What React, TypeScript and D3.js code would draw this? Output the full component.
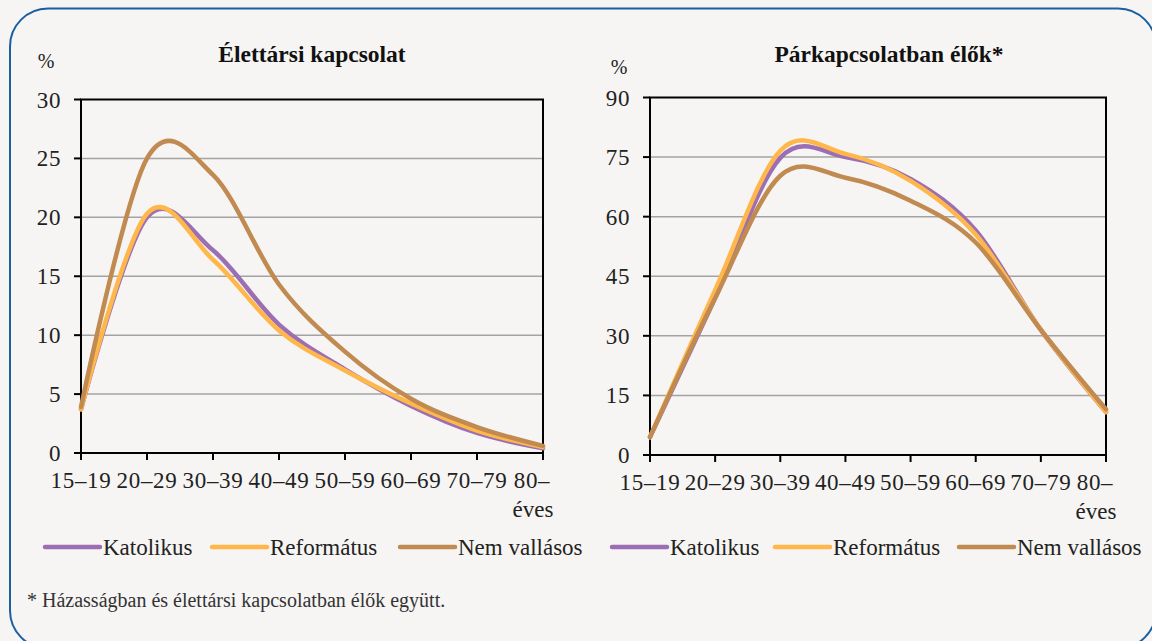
import React from "react";
import * as d3 from "d3";

const categories = ["15–19", "20–29", "30–39", "40–49", "50–59", "60–69", "70–79", "80–"];
const seriesNames = ["Katolikus", "Református", "Nem vallásos"];
const seriesColors = ["#9c6fb4", "#ffb74a", "#c08a50"];

const leftKatolikus = [3.7, 20.0, 17.2, 10.9, 7.1, 4.0, 1.7, 0.4];
const leftReformatus = [3.7, 20.3, 16.4, 10.4, 7.0, 4.2, 1.9, 0.5];
const leftNemVallasos = [3.9, 25.0, 23.6, 14.3, 8.6, 4.6, 2.2, 0.6];
const leftTicks = [0, 5, 10, 15, 20, 25, 30];

const rightKatolikus = [4.5, 39.5, 74.8, 75.0, 69.5, 56.5, 31.5, 10.8];
const rightReformatus = [4.5, 41.5, 76.6, 75.8, 69.0, 55.5, 31.5, 10.8];
const rightNemVallasos = [4.5, 39.5, 70.3, 69.8, 64.0, 53.5, 31.5, 11.5];
const rightTicks = [0, 15, 30, 45, 60, 75, 90];

const FONT = "Liberation Serif, DejaVu Serif, serif";

type PanelProps = {
  title: string;
  titleX: number;
  pctX: number;
  pctY: number;
  x0: number;
  x1: number;
  y0: number;
  y1: number;
  max: number;
  ticks: number[];
  series: number[][];
  legendX: number[];
};

function Panel(p: PanelProps) {
  const x = d3.scalePoint<string>().domain(categories).range([p.x0, p.x1]);
  const y = d3.scaleLinear().domain([0, p.max]).range([p.y1, p.y0]);
  const line = d3
    .line<number>()
    .x((_, i) => x(categories[i]) as number)
    .y((d) => y(d))
    .curve(d3.curveCardinal.tension(0));
  const lastX = x(categories[categories.length - 1]) as number;
  return (
    <g>
      <text x={p.titleX} y={62} textAnchor="middle" style={{ fontFamily: FONT }} fontWeight="bold" fontSize={23.5} fill="#111">
        {p.title}
      </text>
      <text x={p.pctX} y={p.pctY} textAnchor="middle" style={{ fontFamily: FONT }} fontSize={20} fill="#222">
        %
      </text>
      {p.ticks.slice(1, -1).map((t) => (
        <line key={"g" + t} x1={p.x0} x2={p.x1} y1={y(t)} y2={y(t)} stroke="#a3a3a3" strokeWidth={1.5} />
      ))}
      {p.ticks.map((t) => (
        <g key={"t" + t}>
          <line x1={p.x0 - 7} x2={p.x0} y1={y(t)} y2={y(t)} stroke="#000" strokeWidth={2} />
          <text x={p.x0 - 20} y={y(t)} dy="0.35em" textAnchor="end" style={{ fontFamily: FONT }} fontSize={23} letterSpacing={0.6} fill="#222">
            {t}
          </text>
        </g>
      ))}
      <rect x={p.x0} y={y(p.max)} width={p.x1 - p.x0} height={y(0) - y(p.max)} fill="none" stroke="#000" strokeWidth={2} />
      {categories.map((c, i) => {
        const cx = x(c) as number;
        const lx = i === categories.length - 1 ? cx - 11 : cx;
        return (
          <g key={c}>
            <line x1={cx} x2={cx} y1={y(0)} y2={y(0) + 7} stroke="#000" strokeWidth={2} />
            <text x={lx} y={y(0) + 27} dy="0.35em" textAnchor="middle" style={{ fontFamily: FONT }} fontSize={23} letterSpacing={0.7} fill="#222">
              {c}
            </text>
          </g>
        );
      })}
      <text x={lastX - 10} y={y(0) + 56} dy="0.35em" textAnchor="middle" style={{ fontFamily: FONT }} fontSize={23} fill="#222">
        éves
      </text>
      {p.series.map((s, i) => (
        <path key={"s" + i} d={line(s) || ""} fill="none" stroke={seriesColors[i]} strokeWidth={4.5} strokeLinecap="round" strokeLinejoin="round" />
      ))}
      {seriesNames.map((n, i) => (
        <g key={n}>
          <line x1={p.legendX[i]} x2={p.legendX[i] + 55} y1={547} y2={547} stroke={seriesColors[i]} strokeWidth={4.5} strokeLinecap="round" />
          <text x={p.legendX[i] + 58} y={547} dy="0.35em" style={{ fontFamily: FONT }} fontSize={23} fill="#222">
            {n}
          </text>
        </g>
      ))}
    </g>
  );
}

export default function App() {
  return (
    <svg width={1152} height={641} style={{ position: "absolute", left: 0, top: 0, display: "block" }}>
      <rect x={0} y={0} width={1152} height={641} fill="#f6f5f3" />
      <rect x={10} y={8.5} width={1146} height={640} rx={38} ry={38} fill="none" stroke="#1a5fa0" strokeWidth={2} />
      <Panel
        title="Élettársi kapcsolat"
        titleX={312}
        pctX={46}
        pctY={68}
        x0={81}
        x1={543}
        y0={99.5}
        y1={453}
        max={30}
        ticks={leftTicks}
        series={[leftKatolikus, leftReformatus, leftNemVallasos]}
        legendX={[45, 212, 400]}
      />
      <Panel
        title="Párkapcsolatban élők*"
        titleX={889}
        pctX={619}
        pctY={74}
        x0={650}
        x1={1106}
        y0={97.5}
        y1={455}
        max={90}
        ticks={rightTicks}
        series={[rightKatolikus, rightReformatus, rightNemVallasos]}
        legendX={[612, 775, 959]}
      />
      <text x={27} y={600} dy="0.35em" style={{ fontFamily: FONT }} fontSize={20} fill="#333">
        * Házasságban és élettársi kapcsolatban élők együtt.
      </text>
    </svg>
  );
}
